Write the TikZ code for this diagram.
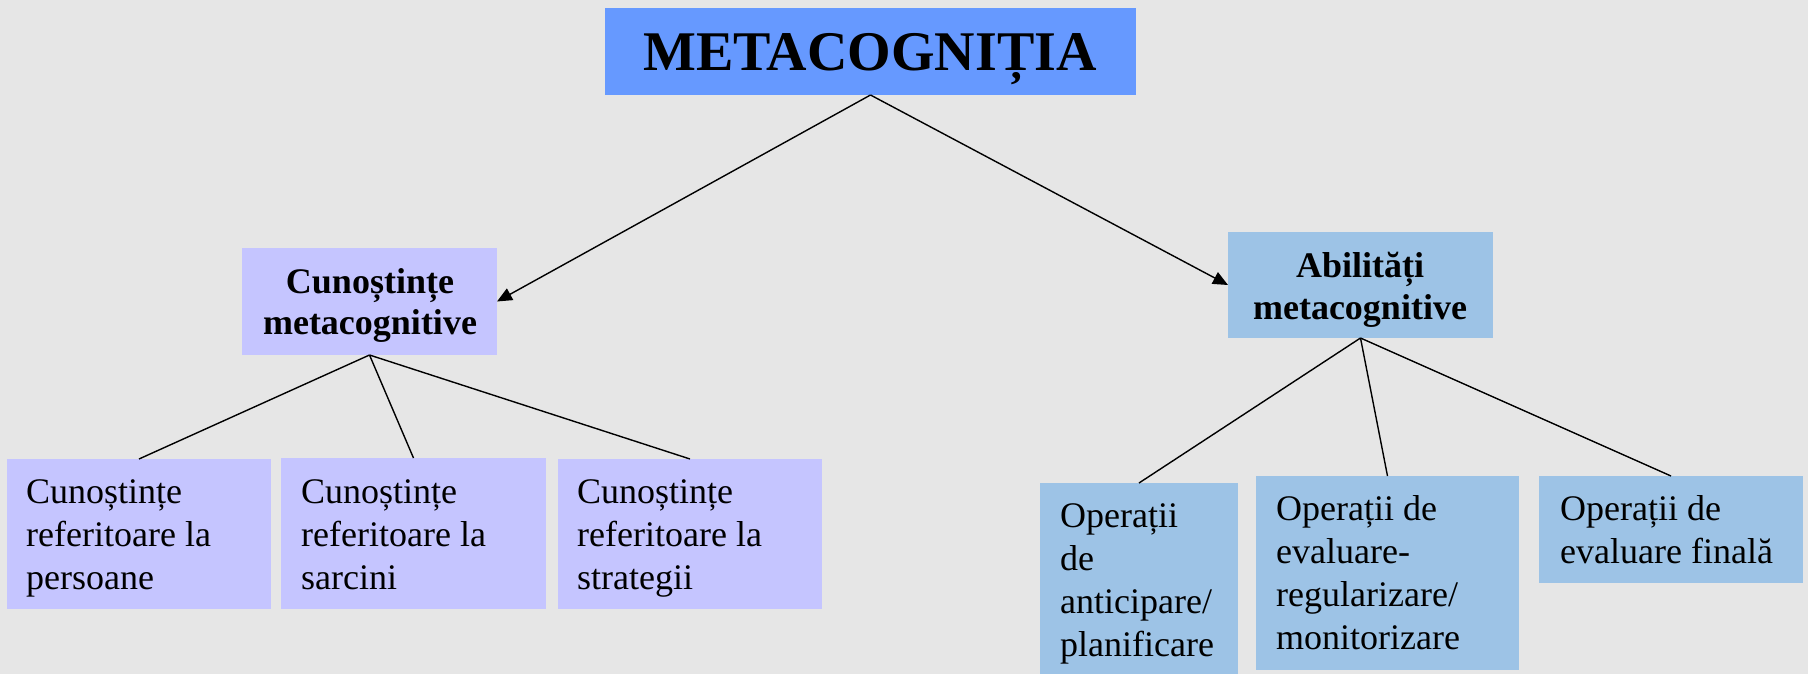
\documentclass[tikz,border=0pt]{standalone}
\usepackage{fontspec}
\setmainfont{Liberation Serif}
\usetikzlibrary{arrows.meta}
\definecolor{bg}{HTML}{E6E6E6}
\definecolor{topblue}{HTML}{6699FF}
\definecolor{lav}{HTML}{C5C5FF}
\definecolor{sky}{HTML}{9DC3E6}
\begin{document}
\begin{tikzpicture}[x=1pt,y=-1pt,
  boxstyle/.style={rectangle, inner sep=0pt, outer sep=0pt, anchor=north west},
  lavbox/.style={boxstyle, fill=lav},
  skybox/.style={boxstyle, fill=sky},
  txtleft/.style={inner sep=0pt, anchor=north west, align=left, font=\fontsize{36}{43}\selectfont},
  txtbold/.style={inner sep=0pt, anchor=north, align=center, font=\fontsize{36}{42}\selectfont\bfseries},
  conn/.style={line width=1.4pt, black},
  arr/.style={conn, -{Triangle[length=15pt,width=13pt]}}
]
\fill[bg] (0,0) rectangle (1808,674);
\useasboundingbox (0,0) rectangle (1808,674);

% boxes
\node[boxstyle, fill=topblue, minimum width=531pt, minimum height=87pt] (top) at (605,8) {};
\node[lavbox, minimum width=255pt, minimum height=107pt] (cm) at (242,248) {};
\node[skybox, minimum width=265pt, minimum height=106pt] (am) at (1228,232) {};
\node[lavbox, minimum width=264pt, minimum height=150pt] (b1) at (7,459) {};
\node[lavbox, minimum width=265pt, minimum height=151pt] (b2) at (281,458) {};
\node[lavbox, minimum width=264pt, minimum height=150pt] (b3) at (558,459) {};
\node[skybox, minimum width=198pt, minimum height=191pt] (b4) at (1040,483) {};
\node[skybox, minimum width=263pt, minimum height=194pt] (b5) at (1256,476) {};
\node[skybox, minimum width=264pt, minimum height=107pt] (b6) at (1539,476) {};

% texts
\node[inner sep=0pt, anchor=base, font=\fontsize{56}{60}\selectfont\bfseries] (ttop) at (870,71) {METACOGNIȚIA};
\node[txtbold, font=\fontsize{36}{41}\selectfont\bfseries] (tcm) at (370,264.3) {\strut Cunoștințe\\metacognitive};
\node[txtbold] (tam) at (1360,247.6) {\strut Abilități\\metacognitive};
\node[txtleft] (tb1) at (26,472.9) {\strut Cunoștințe\\referitoare la\\persoane};
\node[txtleft] (tb2) at (301,472.9) {\strut Cunoștințe\\referitoare la\\sarcini};
\node[txtleft] (tb3) at (577,472.9) {\strut Cunoștințe\\referitoare la\\strategii};
\node[txtleft] (tb4) at (1060,496.9) {\strut Operații\\de\\anticipare/\\planificare};
\node[txtleft] (tb5) at (1276,489.9) {\strut Operații de\\evaluare-\\regularizare/\\monitorizare};
\node[txtleft] (tb6) at (1560,489.9) {\strut Operații de\\evaluare finală};

% connectors
\draw[arr] (top.south) -- (cm.east);
\draw[arr] (top.south) -- (am.west);
\draw[conn] (cm.south) -- (b1.north);
\draw[conn] (cm.south) -- (b2.north);
\draw[conn] (cm.south) -- (b3.north);
\draw[conn] (am.south) -- (b4.north);
\draw[conn] (am.south) -- (b5.north);
\draw[conn] (am.south) -- (b6.north);
\end{tikzpicture}
\end{document}
